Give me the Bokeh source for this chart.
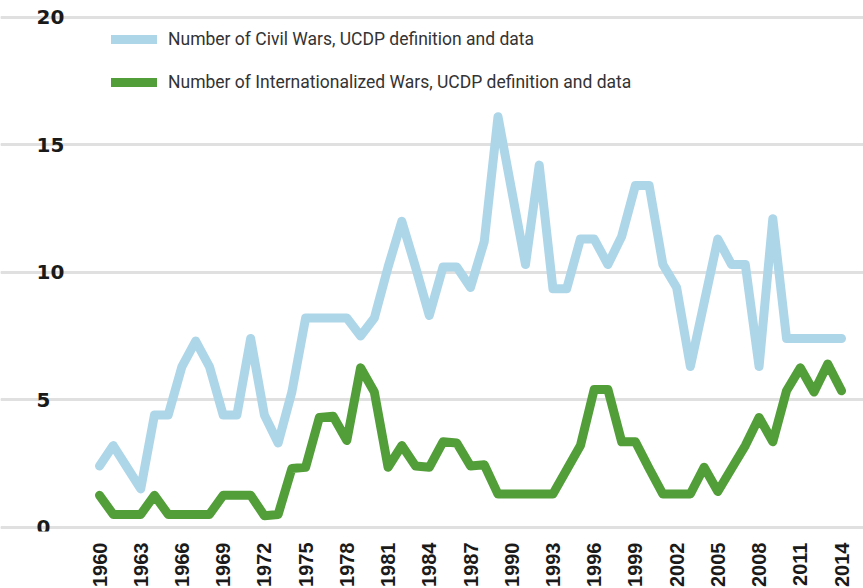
import math
from bokeh.plotting import figure
from bokeh.core.properties import value
from bokeh.models import (Range1d, FixedTicker, Grid, LabelSet, ColumnDataSource,
                          Legend, LegendItem)
from bokeh.embed import file_html
from bokeh.resources import INLINE

# ---- data ----
years = list(range(1960, 2015))

civil_wars = [2.4, 3.2, 2.35, 1.5, 4.4, 4.4, 6.3, 7.3, 6.3, 4.4,
              4.4, 7.4, 4.4, 3.3, 5.3, 8.2, 8.2, 8.2, 8.2, 7.5,
              8.2, 10.2, 12.0, 10.2, 8.3, 10.2, 10.2, 9.4, 11.2, 16.1,
              13.2, 10.3, 14.2, 9.35, 9.35, 11.3, 11.3, 10.3, 11.4, 13.4,
              13.4, 10.3, 9.4, 6.3, 8.8, 11.3, 10.3, 10.3, 6.3, 12.1,
              7.4, 7.4, 7.4, 7.4, 7.4]

internationalized_wars = [1.25, 0.5, 0.5, 0.5, 1.25, 0.5, 0.5, 0.5, 0.5, 1.25,
                          1.25, 1.25, 0.45, 0.5, 2.3, 2.35, 4.3, 4.35, 3.4, 6.25,
                          5.3, 2.35, 3.2, 2.4, 2.35, 3.35, 3.3, 2.4, 2.45, 1.3,
                          1.3, 1.3, 1.3, 1.3, 2.25, 3.2, 5.4, 5.4, 3.35, 3.35,
                          2.3, 1.3, 1.3, 1.3, 2.35, 1.4, 2.3, 3.2, 4.3, 3.35,
                          5.35, 6.25, 5.3, 6.4, 5.35]

x_ticks = list(range(1960, 2015, 3))
y_ticks = [0, 5, 10, 15, 20]
y_tick_labels = ["0", "5", "10", "15", "20"]

series_names = ["Number of Civil Wars, UCDP definition and data",
                "Number of Internationalized Wars, UCDP definition and data"]
series_colors = ["#aed6e9", "#529e39"]

# ---- figure ----
p = figure(frame_width=863, frame_height=531,
           x_range=Range1d(1952.795, 2015.600),
           y_range=Range1d(-0.169, 20.655),
           output_backend="svg", toolbar_location=None,
           y_axis_location=None,
           min_border_left=0, min_border_right=0, min_border_top=0)
p.outline_line_color = None
p.background_fill_color = "white"
p.xgrid.visible = False

grid = Grid(dimension=1, ticker=FixedTicker(ticks=y_ticks),
            grid_line_color="#e0e0e0", grid_line_width=3)
p.add_layout(grid)

ax = p.xaxis[0]
ax.ticker = FixedTicker(ticks=x_ticks)
ax.axis_line_color = None
ax.major_tick_line_color = None
ax.minor_tick_line_color = None
ax.major_label_orientation = math.pi / 2
ax.major_label_text_font = "Liberation Sans"
ax.major_label_text_font_style = "bold"
ax.major_label_text_font_size = "20px"
ax.major_label_text_color = "#1a1a1a"
ax.major_label_standoff = 5

src = ColumnDataSource(dict(year=years, civil=civil_wars, intl=internationalized_wars))
r1 = p.line("year", "civil", source=src, line_color=series_colors[0],
            line_width=9, line_cap="round", line_join="round")
r2 = p.line("year", "intl", source=src, line_color=series_colors[1],
            line_width=9, line_cap="round", line_join="round")

ysrc = ColumnDataSource(dict(y=y_ticks, text=y_tick_labels))
ylabels = LabelSet(x=36, y="y", text="text", x_units="screen", source=ysrc,
                   text_font=value("DejaVu Sans"), text_font_style="bold",
                   text_font_size="20px", text_color="#1a1a1a",
                   text_align="left", text_baseline="middle")
p.add_layout(ylabels)

legend = Legend(items=[LegendItem(label=series_names[0], renderers=[r1]),
                       LegendItem(label=series_names[1], renderers=[r2])],
                location=(111, 438), orientation="vertical",
                glyph_width=46, glyph_height=22, label_height=22,
                spacing=21, padding=0, margin=0, label_standoff=11,
                label_text_font="Roboto",
                label_text_font_size="17.5px", label_text_color="#333333",
                border_line_color=None, background_fill_alpha=0)
p.add_layout(legend, "center")

open("out.html", "w").write(file_html(p, INLINE))
